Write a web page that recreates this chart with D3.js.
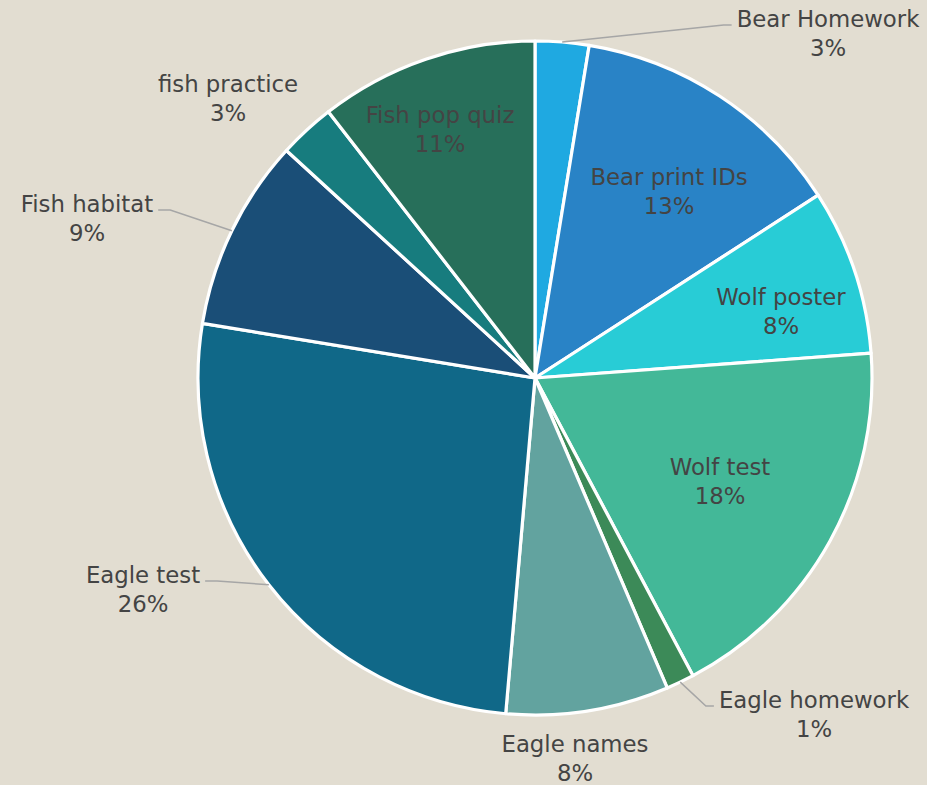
<!DOCTYPE html>
<html>
<head>
<meta charset="utf-8">
<script src="https://cdn.jsdelivr.net/npm/d3@7"></script>
<style>
  html, body { margin: 0; padding: 0; background: #E2DDD1; }
  svg { display: block; }
  text { font-family: "DejaVu Sans", sans-serif; fill: #444444; }
</style>
</head>
<body>
<svg id="chart" width="927" height="785"></svg>
<script>
// ---- data ----
const categories = ["Bear Homework", "Bear print IDs", "Wolf poster", "Wolf test", "Eagle homework",
                    "Eagle names", "Eagle test", "Fish habitat", "fish practice", "Fish pop quiz"];
const values = [2.57, 13.3, 7.95, 18.4, 1.35, 7.8, 26.2, 9.2, 2.7, 10.5];
const colors = ["#1FA9E1", "#2983C6", "#28CCD6", "#43B898", "#3C8A58",
                "#62A39F", "#106888", "#1A4E77", "#177C7E", "#276F5A"];

// ---- label layout (first-line baseline, centred text; leader side) ----
const labelX = [828, 669, 781, 720, 814, 575, 143, 87, 228, 440];
const labelY = [27, 185, 305, 475, 708, 752, 583, 212, 92, 123];
const leaderSide = ["left", null, null, null, "left", null, "right", "right", null, null];

// ---- chart ----
const W = 927, H = 785;
const cx = 535, cy = 378, R = 337;
const svg = d3.select("#chart");
svg.append("rect").attr("width", W).attr("height", H).attr("fill", "#E2DDD1");

const total = d3.sum(values);
const pie = d3.pie().sort(null).value(d => d)(values);
const arc = d3.arc().innerRadius(0).outerRadius(R);
const g = svg.append("g").attr("transform", `translate(${cx},${cy})`);

g.selectAll("path.slice").data(pie).join("path")
  .attr("class", "slice")
  .attr("d", arc)
  .attr("fill", (d, i) => colors[i])
  .attr("stroke", "#ffffff")
  .attr("stroke-width", 3.2)
  .attr("stroke-linejoin", "round");

const fs = 22.8, lh = 29;
const labels = svg.append("g");
pie.forEach((d, i) => {
  const pct = Math.round(d.value / total * 100) + "%";
  const t = labels.append("text")
    .attr("x", labelX[i]).attr("y", labelY[i])
    .attr("text-anchor", "middle")
    .attr("font-size", fs)
    .text(categories[i]);
  labels.append("text")
    .attr("x", labelX[i]).attr("y", labelY[i] + lh)
    .attr("text-anchor", "middle")
    .attr("font-size", fs)
    .text(pct);
  if (leaderSide[i]) {
    const w = t.node().getComputedTextLength();
    const a = (d.startAngle + d.endAngle) / 2;
    const sx = cx + R * Math.sin(a), sy = cy - R * Math.cos(a);
    const ly = labelY[i] - 2;
    let ex, elx;
    if (leaderSide[i] === "left") { ex = labelX[i] - w / 2 - 5; elx = ex - 8; }
    else { ex = labelX[i] + w / 2 + 5; elx = ex + 12; }
    svg.append("path")
      .attr("d", d3.line()([[sx, sy], [elx, ly], [ex, ly]]))
      .attr("fill", "none")
      .attr("stroke", "#A6A6A6")
      .attr("stroke-width", 1.5);
  }
});
</script>
</body>
</html>
